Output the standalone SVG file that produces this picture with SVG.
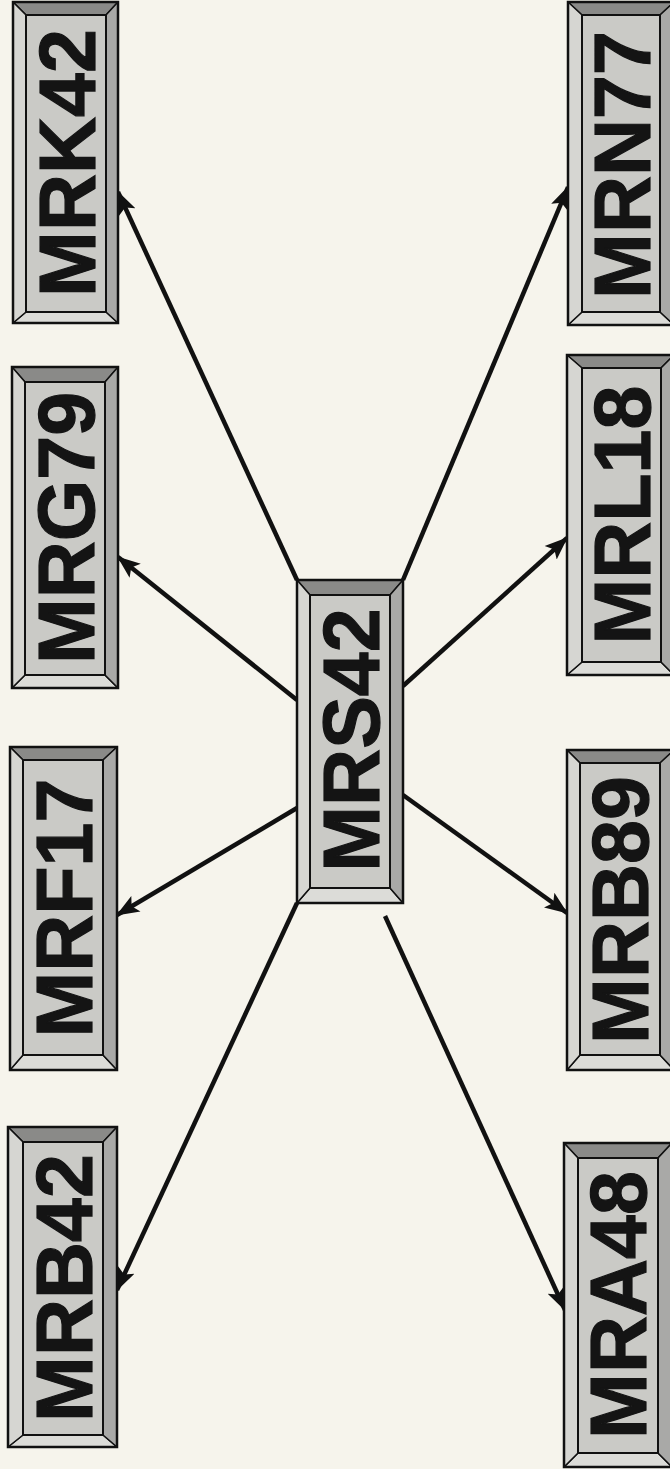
<svg xmlns="http://www.w3.org/2000/svg" width="670" height="1469" viewBox="0 0 670 1469">
<style>
.bg{fill:#f6f4ec}
.outer{fill:none;stroke:#111;stroke-width:2.5}
.top{fill:#8a8a88;stroke:#111;stroke-width:1.5;stroke-linejoin:round}
.bot{fill:#dcdcd8;stroke:#111;stroke-width:1.5;stroke-linejoin:round}
.lft{fill:#d6d6d2;stroke:#111;stroke-width:1.5;stroke-linejoin:round}
.rgt{fill:#a9a9a7;stroke:#111;stroke-width:1.5;stroke-linejoin:round}
.face{fill:#cacac6;stroke:#111;stroke-width:2}
.lbl{font-family:"Liberation Sans",Arial,sans-serif;font-weight:bold;font-size:79px;fill:#141414;text-anchor:middle;stroke:#141414;stroke-width:1.2}
.edge{stroke:#111;stroke-width:4.5;fill:none;marker-end:url(#ah)}
</style>
<defs>
<marker id="ah" markerUnits="userSpaceOnUse" markerWidth="24" markerHeight="20" viewBox="0 0 24 20" refX="22" refY="10" orient="auto">
<path d="M0,1 L23,10 L0,19 L5,10 z" fill="#111"/>
</marker>
</defs>
<rect class="bg" x="0" y="0" width="670" height="1469"/>

<g id="connectors">
<line class="edge" x1="297" y1="580" x2="118" y2="192"/>
<line class="edge" x1="297" y1="700" x2="118" y2="557"/>
<line class="edge" x1="297" y1="808" x2="117" y2="915"/>
<line class="edge" x1="297" y1="903" x2="117" y2="1290"/>
<line class="edge" x1="403" y1="580" x2="568" y2="187"/>
<line class="edge" x1="403" y1="686" x2="567" y2="538"/>
<line class="edge" x1="403" y1="795" x2="567" y2="913"/>
<line class="edge" x1="385" y1="916" x2="565" y2="1310"/>
</g>

<g id="MRK42">
<polygon class="top" points="13,2 118,2 106,15 26,15"/>
<polygon class="bot" points="13,323 118,323 106,312 26,312"/>
<polygon class="lft" points="13,2 26,15 26,312 13,323"/>
<polygon class="rgt" points="118,2 106,15 106,312 118,323"/>
<rect class="face" x="26" y="15" width="80" height="297"/>
<rect class="outer" x="13" y="2" width="105" height="321"/>
<text class="lbl" transform="translate(95,163) rotate(-90)">MRK42</text>
</g>

<g id="MRG79">
<polygon class="top" points="12,367 118,367 105,382 25,382"/>
<polygon class="bot" points="12,688 118,688 105,675 25,675"/>
<polygon class="lft" points="12,367 25,382 25,675 12,688"/>
<polygon class="rgt" points="118,367 105,382 105,675 118,688"/>
<rect class="face" x="25" y="382" width="80" height="293"/>
<rect class="outer" x="12" y="367" width="106" height="321"/>
<text class="lbl" transform="translate(94,528) rotate(-90)">MRG79</text>
</g>

<g id="MRF17">
<polygon class="top" points="10,747 117,747 103,760 23,760"/>
<polygon class="bot" points="10,1070 117,1070 103,1055 23,1055"/>
<polygon class="lft" points="10,747 23,760 23,1055 10,1070"/>
<polygon class="rgt" points="117,747 103,760 103,1055 117,1070"/>
<rect class="face" x="23" y="760" width="80" height="295"/>
<rect class="outer" x="10" y="747" width="107" height="323"/>
<text class="lbl" transform="translate(92,908) rotate(-90)">MRF17</text>
</g>

<g id="MRB42">
<polygon class="top" points="8,1127 117,1127 103,1142 23,1142"/>
<polygon class="bot" points="8,1447 117,1447 103,1435 23,1435"/>
<polygon class="lft" points="8,1127 23,1142 23,1435 8,1447"/>
<polygon class="rgt" points="117,1127 103,1142 103,1435 117,1447"/>
<rect class="face" x="23" y="1142" width="80" height="293"/>
<rect class="outer" x="8" y="1127" width="109" height="320"/>
<text class="lbl" transform="translate(92,1288) rotate(-90)">MRB42</text>
</g>

<g id="MRS42">
<polygon class="top" points="297,580 403,580 390,595 310,595"/>
<polygon class="bot" points="297,903 403,903 390,888 310,888"/>
<polygon class="lft" points="297,580 310,595 310,888 297,903"/>
<polygon class="rgt" points="403,580 390,595 390,888 403,903"/>
<rect class="face" x="310" y="595" width="80" height="293"/>
<rect class="outer" x="297" y="580" width="106" height="323"/>
<text class="lbl" transform="translate(379,740) rotate(-90)">MRS42</text>
</g>

<g id="MRN77">
<polygon class="top" points="568,2 674,2 660,15 582,15"/>
<polygon class="bot" points="568,325 674,325 660,312 582,312"/>
<polygon class="lft" points="568,2 582,15 582,312 568,325"/>
<polygon class="rgt" points="674,2 660,15 660,312 674,325"/>
<rect class="face" x="582" y="15" width="78" height="297"/>
<rect class="outer" x="568" y="2" width="106" height="323"/>
<text class="lbl" transform="translate(650,165) rotate(-90)">MRN77</text>
</g>

<g id="MRL18">
<polygon class="top" points="567,355 674,355 661,368 582,368"/>
<polygon class="bot" points="567,675 674,675 661,662 582,662"/>
<polygon class="lft" points="567,355 582,368 582,662 567,675"/>
<polygon class="rgt" points="674,355 661,368 661,662 674,675"/>
<rect class="face" x="582" y="368" width="79" height="294"/>
<rect class="outer" x="567" y="355" width="107" height="320"/>
<text class="lbl" transform="translate(650,515) rotate(-90)">MRL18</text>
</g>

<g id="MRB89">
<polygon class="top" points="567,750 674,750 660,763 580,763"/>
<polygon class="bot" points="567,1070 674,1070 660,1055 580,1055"/>
<polygon class="lft" points="567,750 580,763 580,1055 567,1070"/>
<polygon class="rgt" points="674,750 660,763 660,1055 674,1070"/>
<rect class="face" x="580" y="763" width="80" height="292"/>
<rect class="outer" x="567" y="750" width="107" height="320"/>
<text class="lbl" transform="translate(648,910) rotate(-90)">MRB89</text>
</g>

<g id="MRA48">
<polygon class="top" points="564,1143 672,1143 658,1158 578,1158"/>
<polygon class="bot" points="564,1467 672,1467 658,1453 578,1453"/>
<polygon class="lft" points="564,1143 578,1158 578,1453 564,1467"/>
<polygon class="rgt" points="672,1143 658,1158 658,1453 672,1467"/>
<rect class="face" x="578" y="1158" width="80" height="295"/>
<rect class="outer" x="564" y="1143" width="108" height="324"/>
<text class="lbl" transform="translate(646,1305) rotate(-90)">MRA48</text>
</g>
</svg>
